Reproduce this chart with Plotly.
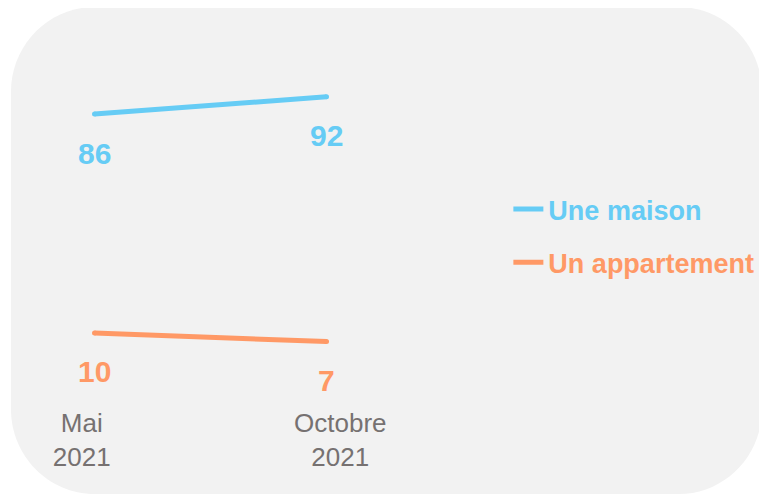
import plotly.graph_objects as go

# ---- data ----
categories = ["Mai<br>2021", "Octobre<br>2021"]
series_names = ["Une maison", "Un appartement"]
maison = [86, 92]
appartement = [10, 7]

BLUE = "#66CCF5"
ORANGE = "#FF9966"
GRAY = "#767171"
FONT = "Liberation Sans, Arial, sans-serif"

W, H = 767, 495
OFF = 8  # page body margin


def px(x):
    return (x - OFF) / W


def py(y):
    return 1 - (y - OFF) / H


def rounded_rect(x0, y0, x1, y1, r):
    k = 0.5523 * r
    pts = [
        ("M", [(x0 + r, y0)]),
        ("L", [(x1 - r, y0)]),
        ("C", [(x1 - r + k, y0), (x1, y0 + r - k), (x1, y0 + r)]),
        ("L", [(x1, y1 - r)]),
        ("C", [(x1, y1 - r + k), (x1 - r + k, y1), (x1 - r, y1)]),
        ("L", [(x0 + r, y1)]),
        ("C", [(x0 + r - k, y1), (x0, y1 - r + k), (x0, y1 - r)]),
        ("L", [(x0, y0 + r)]),
        ("C", [(x0, y0 + r - k), (x0 + r - k, y0), (x0 + r, y0)]),
    ]
    s = ""
    for cmd, coords in pts:
        s += cmd + " ".join(f"{px(a):.5f},{py(b):.5f}" for a, b in coords) + " "
    return s + "Z"


xs = list(range(len(categories)))
fig = go.Figure()

for name, vals, color, grp in [(series_names[0], maison, BLUE, "a"),
                                (series_names[1], appartement, ORANGE, "b")]:
    fig.add_trace(go.Scatter(
        x=xs, y=vals, mode="lines",
        line=dict(color=color, width=5),
        name=f"<span style='color:{color}'><b>{name}</b></span>",
        legendgroup=grp, hoverinfo="skip",
    ))
    fig.add_trace(go.Scatter(
        x=xs, y=vals, mode="markers",
        marker=dict(color=color, size=5, line=dict(width=0)),
        showlegend=False, hoverinfo="skip", legendgroup=grp,
    ))
    for xi, v in zip(xs, vals):
        fig.add_annotation(
            x=xi, y=v, text=f"<b>{v}</b>", showarrow=False, yshift=-39,
            font=dict(family=FONT, size=30, color=color),
        )

tick_offsets = [-13 / 236, 14 / 236]
fig.update_layout(
    width=W, height=H,
    margin=dict(l=0, r=0, t=0, b=0),
    paper_bgcolor="white",
    plot_bgcolor="rgba(0,0,0,0)",
    font=dict(family=FONT),
    xaxis=dict(
        domain=[px(48.8), px(379.2)], range=[-0.2, 1.2],
        tickvals=[x + o for x, o in zip(xs, tick_offsets)],
        ticktext=categories,
        tickfont=dict(size=26, color=GRAY, family=FONT),
        showgrid=False, zeroline=False, showline=False, ticks="",
        fixedrange=True,
    ),
    yaxis=dict(
        domain=[py(405.0), py(73.7)], range=[-15, 100],
        showgrid=False, zeroline=False, showline=False, showticklabels=False,
        fixedrange=True,
    ),
    legend=dict(
        x=px(517), y=py(185), xanchor="left", yanchor="top",
        font=dict(size=27, family=FONT),
        bgcolor="rgba(0,0,0,0)",
        tracegroupgap=15,
    ),
    shapes=[dict(
        type="path", path=rounded_rect(11, 7, 775, 494, 85),
        xref="paper", yref="paper", fillcolor="#F2F2F2",
        line=dict(width=0), layer="below",
    )],
)

fig.write_html("out.html")
